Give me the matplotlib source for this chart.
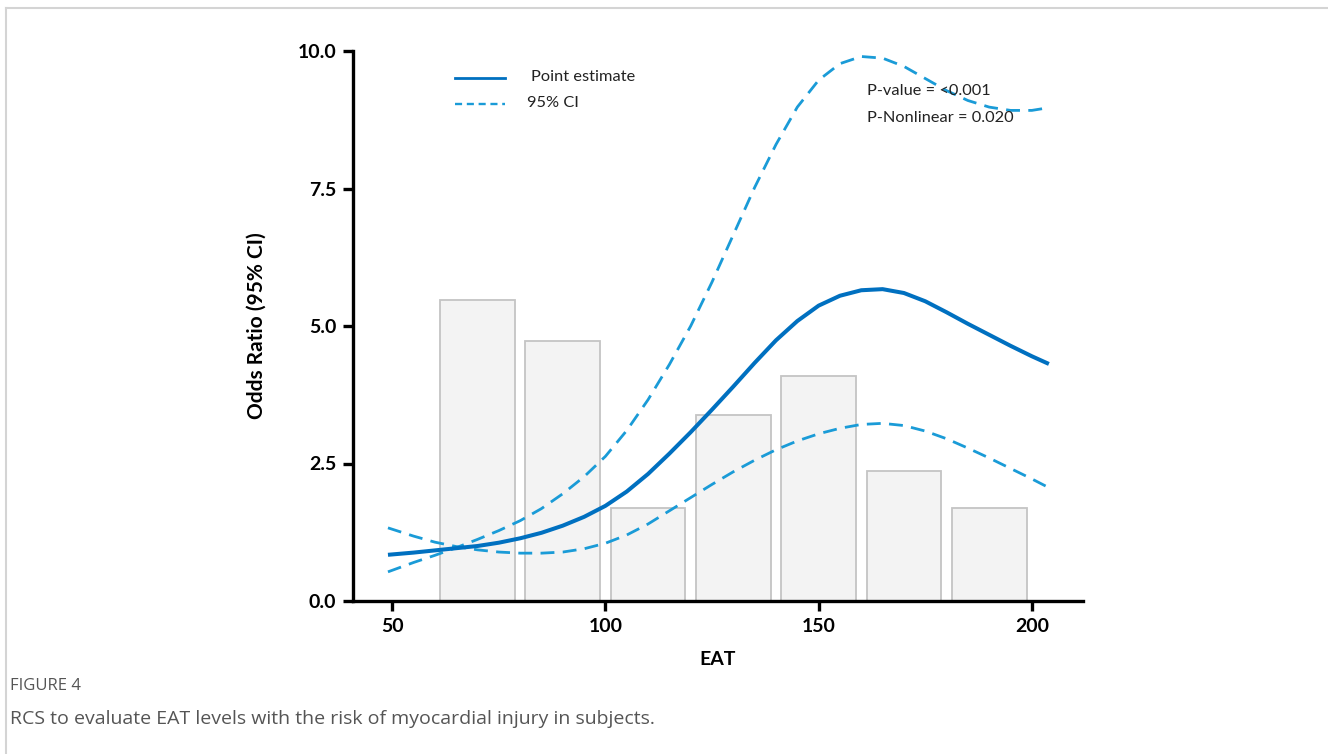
import matplotlib.pyplot as plt
import numpy as np
from matplotlib.lines import Line2D

# --- data ---
bar_x      = [70, 90, 110, 130, 150, 170, 190]
bar_height = [5.47, 4.73, 1.70, 3.38, 4.10, 2.37, 1.70]
bar_width  = 17.5

eat = [49, 55, 60, 65, 70, 75, 80, 85, 90, 95, 100, 105, 110, 115, 120, 125,
       130, 135, 140, 145, 150, 155, 160, 165, 170, 175, 180, 185, 190, 195, 200, 204]
est = [0.84, 0.88, 0.92, 0.96, 1.00, 1.06, 1.14, 1.24, 1.37, 1.53, 1.73, 1.99,
       2.31, 2.68, 3.07, 3.48, 3.90, 4.33, 4.74, 5.09, 5.37, 5.55, 5.65, 5.67,
       5.60, 5.45, 5.25, 5.04, 4.84, 4.64, 4.45, 4.31]
ci_hi = [0.53, 0.70, 0.83, 0.97, 1.12, 1.28, 1.46, 1.68, 1.95, 2.26, 2.63, 3.10,
         3.66, 4.30, 5.00, 5.80, 6.66, 7.52, 8.30, 8.98, 9.47, 9.77, 9.90, 9.87,
         9.72, 9.50, 9.28, 9.10, 8.98, 8.92, 8.92, 8.97]
ci_lo = [1.33, 1.18, 1.07, 0.99, 0.93, 0.89, 0.87, 0.87, 0.89, 0.95, 1.05, 1.20,
         1.40, 1.64, 1.88, 2.12, 2.35, 2.56, 2.75, 2.91, 3.04, 3.14, 3.21, 3.23,
         3.19, 3.09, 2.95, 2.78, 2.60, 2.41, 2.22, 2.06]

x_ticks = [50, 100, 150, 200]
y_ticks = [0.0, 2.5, 5.0, 7.5, 10.0]

solid_c = "#0070c0"
dash_c  = "#1a9bd7"
chart_font = "Lato"

fig = plt.figure(figsize=(13.28, 7.54), dpi=100)
ax = fig.add_axes([353/1328, 1-601/754, (1083-353)/1328, (601-51)/754])

ax.bar(bar_x, bar_height, width=bar_width, color="#f3f3f3",
       edgecolor="#c4c4c4", linewidth=1.3, zorder=1)
ax.plot(eat, ci_hi, color=dash_c, lw=2.0, dashes=(5, 3), zorder=2)
ax.plot(eat, ci_lo, color=dash_c, lw=2.0, dashes=(5, 3), zorder=2)
ax.plot(eat, est, color=solid_c, lw=2.9, zorder=3, solid_capstyle="butt",
        solid_joinstyle="round")

ax.set_xlim(40.8, 212)
ax.set_ylim(0, 10)
ax.set_xticks(x_ticks)
ax.set_yticks(y_ticks)
ax.set_yticklabels([f"{v:.1f}" for v in y_ticks])
for s in ["top", "right"]:
    ax.spines[s].set_visible(False)
for s in ["left", "bottom"]:
    ax.spines[s].set_linewidth(2.4)
ax.tick_params(width=2.4, length=7, labelsize=14, pad=5)
for lab in ax.get_xticklabels() + ax.get_yticklabels():
    lab.set_fontfamily(chart_font)
    lab.set_fontweight("bold")
ax.set_xlabel("EAT", fontsize=14, fontweight="bold", family=chart_font, labelpad=12)
ax.set_ylabel("Odds Ratio (95% CI)", fontsize=15, fontweight="bold",
              family=chart_font, labelpad=22)

# legend drawn by hand to match spacing
ax.add_line(Line2D([455/1328, 505/1328], [1-78/754]*2, transform=fig.transFigure,
                   color=solid_c, lw=2.0))
ax.add_line(Line2D([455/1328, 505/1328], [1-104/754]*2, transform=fig.transFigure,
                   color=dash_c, lw=1.7, dashes=(3, 2)))
txt = dict(fontsize=11.8, family=chart_font, va="center", color="#222222")
fig.text(531/1328, 1-77/754, "Point estimate", **txt)
fig.text(527/1328, 1-103/754, "95% CI", **txt)
fig.text(867/1328, 1-91/754, "P-value = <0.001", **txt)
fig.text(867/1328, 1-118/754, "P-Nonlinear = 0.020", **txt)

# frame and caption
fig.add_artist(Line2D([6/1328, 1], [1-8/754]*2, transform=fig.transFigure,
                      color="#d4d4d4", lw=1.5))
fig.add_artist(Line2D([6/1328]*2, [0, 1-8/754], transform=fig.transFigure,
                      color="#d4d4d4", lw=1.5))
fig.text(10/1328, 1-686/754, "FIGURE 4", fontsize=12, family="Open Sans",
         color="#555555", va="center")
fig.text(10/1328, 1-719/754,
         "RCS to evaluate EAT levels with the risk of myocardial injury in subjects.",
         fontsize=14, family="Open Sans", color="#555555", va="center")

plt.savefig("out.png", dpi=100)
plt.close(fig)
